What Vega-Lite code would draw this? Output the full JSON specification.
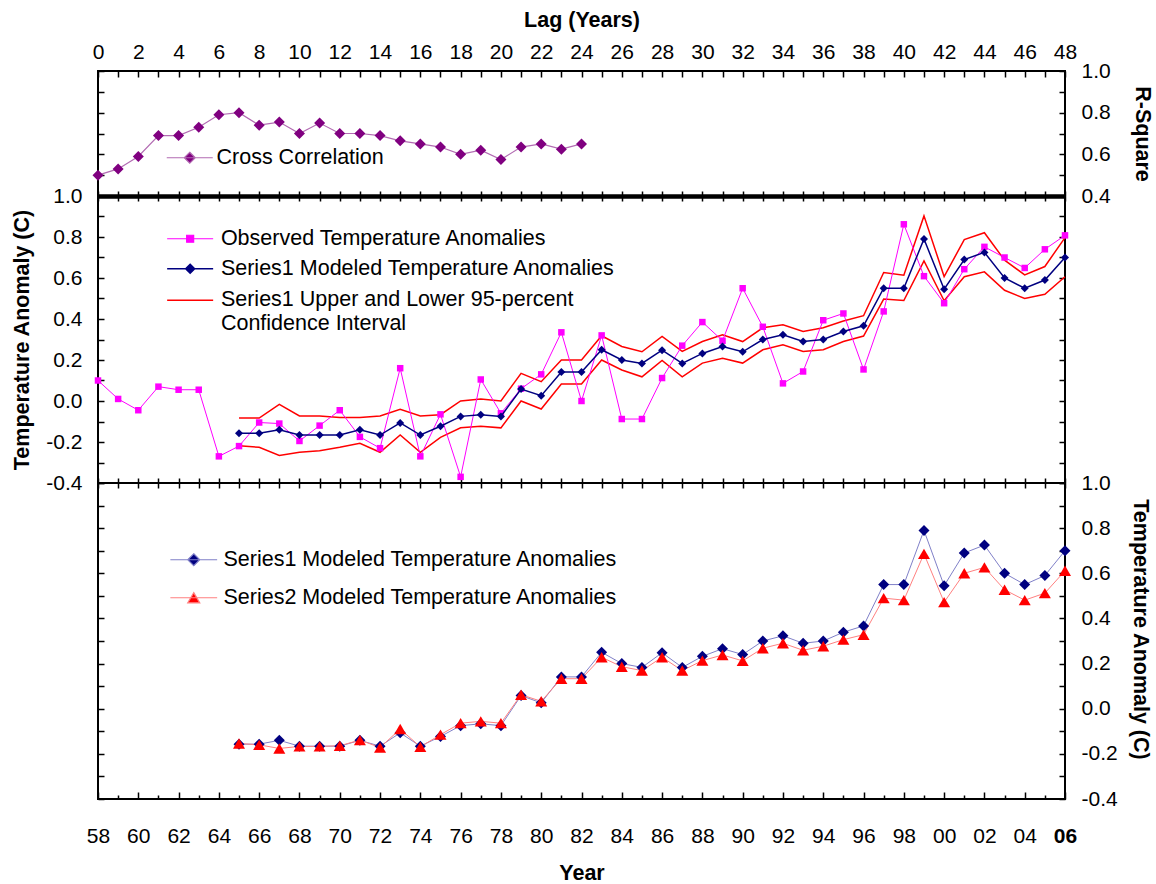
{
  "$schema": "https://vega.github.io/schema/vega-lite/v6.json",
  "background": "white",
  "padding": {"left": 10, "top": 8, "right": 5, "bottom": 2},
  "spacing": 0,
  "bounds": "flush",
  "resolve": {"scale": {"color": "independent", "x": "independent", "y": "independent"}, "legend": {"color": "independent"}},
  "datasets": {
    "cc": [
      {"lag": 0, "r2": 0.50}, {"lag": 1, "r2": 0.53}, {"lag": 2, "r2": 0.59}, {"lag": 3, "r2": 0.69}, {"lag": 4, "r2": 0.69},
      {"lag": 5, "r2": 0.73}, {"lag": 6, "r2": 0.79}, {"lag": 7, "r2": 0.80}, {"lag": 8, "r2": 0.74}, {"lag": 9, "r2": 0.755},
      {"lag": 10, "r2": 0.70}, {"lag": 11, "r2": 0.75}, {"lag": 12, "r2": 0.70}, {"lag": 13, "r2": 0.70}, {"lag": 14, "r2": 0.69},
      {"lag": 15, "r2": 0.665}, {"lag": 16, "r2": 0.65}, {"lag": 17, "r2": 0.635}, {"lag": 18, "r2": 0.60}, {"lag": 19, "r2": 0.62},
      {"lag": 20, "r2": 0.575}, {"lag": 21, "r2": 0.635}, {"lag": 22, "r2": 0.65}, {"lag": 23, "r2": 0.625}, {"lag": 24, "r2": 0.65}
    ],
    "temp": [
      {"year": 1958, "observed": 0.10},
      {"year": 1959, "observed": 0.01},
      {"year": 1960, "observed": -0.045},
      {"year": 1961, "observed": 0.07},
      {"year": 1962, "observed": 0.055},
      {"year": 1963, "observed": 0.055},
      {"year": 1964, "observed": -0.27},
      {"year": 1965, "observed": -0.22, "s1": -0.157, "s1_upper": -0.083, "s1_lower": -0.218, "s2": -0.154},
      {"year": 1966, "observed": -0.105, "s1": -0.157, "s1_upper": -0.083, "s1_lower": -0.226, "s2": -0.16},
      {"year": 1967, "observed": -0.11, "s1": -0.14, "s1_upper": -0.016, "s1_lower": -0.266, "s2": -0.176},
      {"year": 1968, "observed": -0.195, "s1": -0.166, "s1_upper": -0.073, "s1_lower": -0.25, "s2": -0.167},
      {"year": 1969, "observed": -0.12, "s1": -0.166, "s1_upper": -0.073, "s1_lower": -0.243, "s2": -0.167},
      {"year": 1970, "observed": -0.045, "s1": -0.166, "s1_upper": -0.081, "s1_lower": -0.226, "s2": -0.164},
      {"year": 1971, "observed": -0.175, "s1": -0.14, "s1_upper": -0.081, "s1_lower": -0.206, "s2": -0.139},
      {"year": 1972, "observed": -0.23, "s1": -0.166, "s1_upper": -0.073, "s1_lower": -0.25, "s2": -0.172},
      {"year": 1973, "observed": 0.16, "s1": -0.107, "s1_upper": -0.04, "s1_lower": -0.166, "s2": -0.09},
      {"year": 1974, "observed": -0.27, "s1": -0.166, "s1_upper": -0.073, "s1_lower": -0.25, "s2": -0.169},
      {"year": 1975, "observed": -0.065, "s1": -0.123, "s1_upper": -0.067, "s1_lower": -0.177, "s2": -0.115},
      {"year": 1976, "observed": -0.37, "s1": -0.075, "s1_upper": 0.0, "s1_lower": -0.131, "s2": -0.064},
      {"year": 1977, "observed": 0.105, "s1": -0.067, "s1_upper": 0.01, "s1_lower": -0.123, "s2": -0.056},
      {"year": 1978, "observed": -0.06, "s1": -0.075, "s1_upper": 0.0, "s1_lower": -0.131, "s2": -0.064},
      {"year": 1979, "observed": 0.06, "s1": 0.058, "s1_upper": 0.135, "s1_lower": 0.0, "s2": 0.062},
      {"year": 1980, "observed": 0.13, "s1": 0.026, "s1_upper": 0.094, "s1_lower": -0.039, "s2": 0.033},
      {"year": 1981, "observed": 0.335, "s1": 0.141, "s1_upper": 0.2, "s1_lower": 0.083, "s2": 0.133},
      {"year": 1982, "observed": 0.0, "s1": 0.141, "s1_upper": 0.2, "s1_lower": 0.083, "s2": 0.133},
      {"year": 1983, "observed": 0.32, "s1": 0.25, "s1_upper": 0.318, "s1_lower": 0.2, "s2": 0.228},
      {"year": 1984, "observed": -0.088, "s1": 0.2, "s1_upper": 0.266, "s1_lower": 0.151, "s2": 0.186},
      {"year": 1985, "observed": -0.088, "s1": 0.183, "s1_upper": 0.24, "s1_lower": 0.118, "s2": 0.169},
      {"year": 1986, "observed": 0.112, "s1": 0.248, "s1_upper": 0.315, "s1_lower": 0.198, "s2": 0.228},
      {"year": 1987, "observed": 0.27, "s1": 0.183, "s1_upper": 0.242, "s1_lower": 0.118, "s2": 0.169},
      {"year": 1988, "observed": 0.385, "s1": 0.232, "s1_upper": 0.29, "s1_lower": 0.185, "s2": 0.213},
      {"year": 1989, "observed": 0.294, "s1": 0.266, "s1_upper": 0.323, "s1_lower": 0.208, "s2": 0.238},
      {"year": 1990, "observed": 0.55, "s1": 0.24, "s1_upper": 0.29, "s1_lower": 0.185, "s2": 0.212},
      {"year": 1991, "observed": 0.362, "s1": 0.30, "s1_upper": 0.357, "s1_lower": 0.25, "s2": 0.268},
      {"year": 1992, "observed": 0.086, "s1": 0.323, "s1_upper": 0.372, "s1_lower": 0.274, "s2": 0.29},
      {"year": 1993, "observed": 0.144, "s1": 0.29, "s1_upper": 0.339, "s1_lower": 0.242, "s2": 0.259},
      {"year": 1994, "observed": 0.394, "s1": 0.30, "s1_upper": 0.357, "s1_lower": 0.25, "s2": 0.277},
      {"year": 1995, "observed": 0.427, "s1": 0.339, "s1_upper": 0.39, "s1_lower": 0.29, "s2": 0.306},
      {"year": 1996, "observed": 0.154, "s1": 0.367, "s1_upper": 0.416, "s1_lower": 0.317, "s2": 0.328},
      {"year": 1997, "observed": 0.437, "s1": 0.55, "s1_upper": 0.627, "s1_lower": 0.497, "s2": 0.49},
      {"year": 1998, "observed": 0.862, "s1": 0.55, "s1_upper": 0.614, "s1_lower": 0.49, "s2": 0.481},
      {"year": 1999, "observed": 0.609, "s1": 0.79, "s1_upper": 0.903, "s1_lower": 0.683, "s2": 0.686},
      {"year": 2000, "observed": 0.477, "s1": 0.545, "s1_upper": 0.607, "s1_lower": 0.489, "s2": 0.472},
      {"year": 2001, "observed": 0.643, "s1": 0.69, "s1_upper": 0.787, "s1_lower": 0.606, "s2": 0.60},
      {"year": 2002, "observed": 0.752, "s1": 0.725, "s1_upper": 0.821, "s1_lower": 0.63, "s2": 0.626},
      {"year": 2003, "observed": 0.70, "s1": 0.60, "s1_upper": 0.687, "s1_lower": 0.54, "s2": 0.527},
      {"year": 2004, "observed": 0.649, "s1": 0.55, "s1_upper": 0.615, "s1_lower": 0.50, "s2": 0.481},
      {"year": 2005, "observed": 0.74, "s1": 0.59, "s1_upper": 0.656, "s1_lower": 0.521, "s2": 0.512},
      {"year": 2006, "observed": 0.808, "s1": 0.70, "s1_upper": 0.797, "s1_lower": 0.606, "s2": 0.611}
    ]
  },
  "vconcat": [
    {
      "width": 967,
      "height": 125,
      "data": {"name": "cc"},
      "layer": [
        {
          "mark": {"type": "line", "strokeWidth": 1.2},
          "encoding": {
            "x": {"field": "lag", "type": "quantitative", "scale": {"domain": [0, 48], "nice": false, "zero": false},
              "axis": {"orient": "top", "title": "Lag (Years)", "values": [0,1,2,3,4,5,6,7,8,9,10,11,12,13,14,15,16,17,18,19,20,21,22,23,24,25,26,27,28,29,30,31,32,33,34,35,36,37,38,39,40,41,42,43,44,45,46,47,48],
                "labelExpr": "datum.value % 2 == 0 ? datum.label : ''", "tickSize": -6, "labelPadding": 15, "titlePadding": 10}},
            "y": {"field": "r2", "type": "quantitative", "scale": {"domain": [0.4, 1.0], "nice": false, "zero": false},
              "axis": {"orient": "right", "title": "R-Square", "values": [0.4,0.5,0.6,0.7,0.8,0.9,1.0], "format": ".1f",
                "labelExpr": "round(datum.value*10) % 2 == 0 ? datum.label : ''", "tickSize": -6, "labelPadding": 22, "titlePadding": 20}},
            "color": {"datum": "Cross Correlation", "scale": {"domain": ["Cross Correlation"], "range": ["#B26BB2"]},
              "legend": {"title": null, "orient": "none", "legendX": 81, "legendY": 76, "padding": 0,
                "symbolSize": 100, "symbolType": "M-4.6,0H4.6M0,-1.1L1.1,0L0,1.1L-1.1,0Z", "symbolFillColor": "#800080", "symbolStrokeWidth": 1.2,
                "labelOffset": 16, "labelFontSize": 21.5, "labelLimit": 0}}
          }
        },
        {
          "mark": {"type": "point", "shape": "diamond", "filled": true, "size": 121, "opacity": 1, "color": "#800080"},
          "encoding": {
            "x": {"field": "lag", "type": "quantitative",
              "axis": {"orient": "bottom", "labels": false, "title": null, "tickSize": -5, "values": [0,1,2,3,4,5,6,7,8,9,10,11,12,13,14,15,16,17,18,19,20,21,22,23,24,25,26,27,28,29,30,31,32,33,34,35,36,37,38,39,40,41,42,43,44,45,46,47,48]}},
            "y": {"field": "r2", "type": "quantitative",
              "axis": {"orient": "left", "labels": false, "title": null, "tickSize": -6, "values": [0.4,0.5,0.6,0.7,0.8,0.9,1.0]}}
          }
        }
      ],
      "resolve": {"axis": {"x": "independent", "y": "independent"}}
    },
    {
      "width": 967,
      "height": 287,
      "data": {"name": "temp"},
      "layer": [
        {
          "mark": {"type": "line", "strokeWidth": 1.5},
          "encoding": {
            "x": {"field": "year", "type": "quantitative", "scale": {"domain": [1958, 2006], "nice": false, "zero": false},
              "axis": {"orient": "top", "labels": false, "title": null, "tickSize": -5, "domain": true, "domainWidth": 4.5, "domainColor": "#000000",
                "values": [1958,1959,1960,1961,1962,1963,1964,1965,1966,1967,1968,1969,1970,1971,1972,1973,1974,1975,1976,1977,1978,1979,1980,1981,1982,1983,1984,1985,1986,1987,1988,1989,1990,1991,1992,1993,1994,1995,1996,1997,1998,1999,2000,2001,2002,2003,2004,2005,2006]}},
            "y": {"field": "s1_upper", "type": "quantitative", "scale": {"domain": [-0.4, 1.0], "nice": false, "zero": false},
              "axis": {"orient": "left", "title": "Temperature Anomaly (C)", "values": [-0.4,-0.3,-0.2,-0.1,0,0.1,0.2,0.3,0.4,0.5,0.6,0.7,0.8,0.9,1.0], "format": ".1f",
                "labelExpr": "round(datum.value*10) % 2 == 0 ? replace(datum.label, '\u2212', '-') : ''", "tickSize": -6, "labelPadding": 22, "titlePadding": 12}},
            "color": {"datum": "Series1 Upper and Lower 95-percent Confidence Interval",
              "scale": {"domain": ["Series1 Upper and Lower 95-percent Confidence Interval"], "range": ["#FF0000"]},
              "legend": {"title": null, "orient": "none", "legendX": 81.4, "legendY": 93.5, "padding": 0,
                "symbolSize": 64, "symbolType": "M-5.75,0H5.75", "symbolStrokeWidth": 1.5,
                "labelExpr": "['Series1 Upper and Lower 95-percent', 'Confidence Interval']",
                "labelOffset": 20, "labelFontSize": 21.5, "labelLimit": 0}}
          }
        },
        {
          "mark": {"type": "line", "strokeWidth": 1.5, "color": "#FF0000"},
          "encoding": {
            "x": {"field": "year", "type": "quantitative",
              "axis": {"orient": "bottom", "labels": false, "title": null, "tickSize": -5,
                "values": [1958,1959,1960,1961,1962,1963,1964,1965,1966,1967,1968,1969,1970,1971,1972,1973,1974,1975,1976,1977,1978,1979,1980,1981,1982,1983,1984,1985,1986,1987,1988,1989,1990,1991,1992,1993,1994,1995,1996,1997,1998,1999,2000,2001,2002,2003,2004,2005,2006]}},
            "y": {"field": "s1_lower", "type": "quantitative",
              "axis": {"orient": "right", "labels": false, "title": null, "tickSize": -6, "values": [-0.4,-0.3,-0.2,-0.1,0,0.1,0.2,0.3,0.4,0.5,0.6,0.7,0.8,0.9,1.0]}}
          }
        },
        {
          "mark": {"type": "line", "strokeWidth": 1, "point": {"shape": "square", "size": 42, "filled": true, "opacity": 1}},
          "encoding": {
            "x": {"field": "year", "type": "quantitative", "axis": null},
            "y": {"field": "observed", "type": "quantitative", "axis": null},
            "color": {"datum": "Observed Temperature Anomalies",
              "scale": {"domain": ["Observed Temperature Anomalies"], "range": ["#FF00FF"]},
              "legend": {"title": null, "orient": "none", "legendX": 81.4, "legendY": 32, "padding": 0,
                "symbolSize": 64, "symbolType": "M-5.75,0H5.75M-0.875,-0.875H0.875V0.875H-0.875Z", "symbolFillColor": "#FF00FF", "symbolStrokeWidth": 1.2,
                "labelOffset": 20, "labelFontSize": 21.5, "labelLimit": 0}}
          }
        },
        {
          "mark": {"type": "line", "strokeWidth": 1.5, "point": {"shape": "diamond", "size": 64, "filled": true, "opacity": 1}},
          "encoding": {
            "x": {"field": "year", "type": "quantitative", "axis": null},
            "y": {"field": "s1", "type": "quantitative", "axis": null},
            "color": {"datum": "Series1 Modeled Temperature Anomalies",
              "scale": {"domain": ["Series1 Modeled Temperature Anomalies"], "range": ["#000080"]},
              "legend": {"title": null, "orient": "none", "legendX": 81.4, "legendY": 62, "padding": 0,
                "symbolSize": 64, "symbolType": "M-5.75,0H5.75M0,-1.125L1.125,0L0,1.125L-1.125,0Z", "symbolFillColor": "#000080", "symbolStrokeWidth": 1.5,
                "labelOffset": 20, "labelFontSize": 21.5, "labelLimit": 0}}
          }
        }
      ],
      "resolve": {"scale": {"color": "independent"}, "legend": {"color": "independent"}, "axis": {"x": "independent", "y": "independent"}}
    },
    {
      "width": 967,
      "height": 316,
      "data": {"name": "temp"},
      "layer": [
        {
          "mark": {"type": "line", "strokeWidth": 1},
          "encoding": {
            "x": {"field": "year", "type": "quantitative", "scale": {"domain": [1958, 2006], "nice": false, "zero": false},
              "axis": {"orient": "bottom", "title": "Year", "format": "d",
                "values": [1958,1959,1960,1961,1962,1963,1964,1965,1966,1967,1968,1969,1970,1971,1972,1973,1974,1975,1976,1977,1978,1979,1980,1981,1982,1983,1984,1985,1986,1987,1988,1989,1990,1991,1992,1993,1994,1995,1996,1997,1998,1999,2000,2001,2002,2003,2004,2005,2006],
                "labelExpr": "datum.value % 2 == 0 ? substring(datum.label, 2, 4) : ''",
                "labelFontWeight": {"condition": {"test": "datum.value == 2006", "value": "bold"}, "value": "normal"},
                "tickSize": {"condition": {"test": "datum.value % 2 == 0", "value": -7}, "value": -4},
                "labelPadding": 33, "titlePadding": 13}},
            "y": {"field": "s1", "type": "quantitative", "scale": {"domain": [-0.4, 1.0], "nice": false, "zero": false},
              "axis": {"orient": "right", "title": "Temperature Anomaly (C)", "titleY": 146, "values": [-0.4,-0.3,-0.2,-0.1,0,0.1,0.2,0.3,0.4,0.5,0.6,0.7,0.8,0.9,1.0], "format": ".1f",
                "labelExpr": "round(datum.value*10) % 2 == 0 ? replace(datum.label, '\u2212', '-') : ''", "tickSize": -6, "labelPadding": 22, "titlePadding": 11}},
            "color": {"datum": "Series1 Modeled Temperature Anomalies",
              "scale": {"domain": ["Series1 Modeled Temperature Anomalies"], "range": ["#8080C8"]},
              "legend": {"title": null, "orient": "none", "legendX": 85, "legendY": 66, "padding": 0,
                "symbolSize": 144, "symbolType": "M-3.9,0H3.9M0,-1L1,0L0,1L-1,0Z", "symbolFillColor": "#000080", "symbolStrokeWidth": 1.2,
                "labelOffset": 19, "labelFontSize": 21.5, "labelLimit": 0}}
          }
        },
        {
          "mark": {"type": "line", "strokeWidth": 1},
          "encoding": {
            "x": {"field": "year", "type": "quantitative",
              "axis": {"orient": "top", "labels": false, "title": null, "tickSize": -5,
                "values": [1958,1959,1960,1961,1962,1963,1964,1965,1966,1967,1968,1969,1970,1971,1972,1973,1974,1975,1976,1977,1978,1979,1980,1981,1982,1983,1984,1985,1986,1987,1988,1989,1990,1991,1992,1993,1994,1995,1996,1997,1998,1999,2000,2001,2002,2003,2004,2005,2006]}},
            "y": {"field": "s2", "type": "quantitative",
              "axis": {"orient": "left", "labels": false, "title": null, "tickSize": -6, "values": [-0.4,-0.3,-0.2,-0.1,0,0.1,0.2,0.3,0.4,0.5,0.6,0.7,0.8,0.9,1.0]}},
            "color": {"datum": "Series2 Modeled Temperature Anomalies",
              "scale": {"domain": ["Series2 Modeled Temperature Anomalies"], "range": ["#FF8080"]},
              "legend": {"title": null, "orient": "none", "legendX": 85, "legendY": 104, "padding": 0,
                "symbolSize": 144, "symbolType": "M-3.9,0H3.9M0,-0.85L1,0.85L-1,0.85Z", "symbolFillColor": "#FF0000", "symbolStrokeWidth": 1.2,
                "labelOffset": 19, "labelFontSize": 21.5, "labelLimit": 0}}
          }
        },
        {
          "mark": {"type": "point", "shape": "diamond", "filled": true, "size": 121, "opacity": 1, "color": "#000080"},
          "encoding": {
            "x": {"field": "year", "type": "quantitative", "axis": null},
            "y": {"field": "s1", "type": "quantitative", "axis": null}
          }
        },
        {
          "mark": {"type": "point", "shape": "triangle-up", "filled": true, "size": 144, "opacity": 1, "color": "#FF0000"},
          "encoding": {
            "x": {"field": "year", "type": "quantitative", "axis": null},
            "y": {"field": "s2", "type": "quantitative", "axis": null}
          }
        }
      ],
      "resolve": {"scale": {"color": "independent"}, "legend": {"color": "independent"}, "axis": {"x": "independent", "y": "independent"}}
    }
  ],
  "config": {
    "font": "Liberation Sans",
    "view": {"stroke": "#000000", "strokeWidth": 2},
    "axis": {"grid": false, "domain": false, "labelFont": "Liberation Sans", "labelFontSize": 21, "labelColor": "#000000",
      "titleFont": "Liberation Sans", "titleFontSize": 21.5, "titleFontWeight": "bold", "titleColor": "#000000",
      "tickColor": "#000000", "tickWidth": 1.5, "labelOverlap": false, "labelFlush": false, "labelBound": false},
    "legend": {"labelFont": "Liberation Sans", "labelColor": "#000000"}
  }
}
